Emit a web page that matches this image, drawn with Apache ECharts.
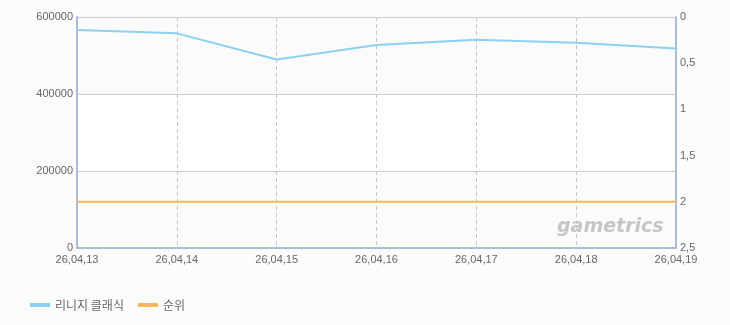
<!DOCTYPE html>
<html><head><meta charset="utf-8">
<script src="https://cdn.jsdelivr.net/npm/echarts@6/dist/echarts.min.js"></script>
<style>html,body{margin:0;padding:0;background:#fcfcfc;}#c{width:730px;height:325px;}</style>
</head><body><div id="c"></div>
<script>
const categories = ['26,04,13','26,04,14','26,04,15','26,04,16','26,04,17','26,04,18','26,04,19'];
const usersValues = [566000, 557500, 489500, 527000, 541000, 533000, 518500];
const rankValues = [2, 2, 2, 2, 2, 2, 2];
const seriesNames = ['리니지 클래식', '순위'];

const chart = echarts.init(document.getElementById('c'));
const axisCol = '#aabdd2';
chart.setOption({
  backgroundColor: '#fcfcfc',
  animation: false,
  grid: {left: 77, right: 54, top: 17, bottom: 77, show: false},
  legend: {
    left: 25, top: 294, itemGap: 14, itemWidth: 20, itemHeight: 4, icon: 'rect',
    textStyle: {color: '#666', fontSize: 12, fontFamily: 'Noto Sans CJK KR'},
    data: seriesNames
  },
  graphic: [{
    type: 'text', left: 557, top: 218, z: 1,
    style: {text: 'gametrics', fill: '#c6c6c6', font: 'italic bold 19px "DejaVu Sans"'}
  }],
  xAxis: {
    type: 'category', data: categories, boundaryGap: false,
    axisLine: {lineStyle: {color: axisCol, width: 2}},
    axisTick: {show: false},
    axisLabel: {color: '#666', fontSize: 11, fontFamily: 'Liberation Sans', margin: 6, interval: 0},
    splitLine: {show: true, lineStyle: {color: '#c8c8c8', type: [4, 3]}}
  },
  yAxis: [{
    type: 'value', min: 0, max: 600000, interval: 200000, position: 'left',
    axisLine: {show: true, lineStyle: {color: axisCol, width: 2}},
    axisTick: {show: false},
    axisLabel: {color: '#666', fontSize: 11, fontFamily: 'Liberation Sans', margin: 4,
      formatter: v => String(v)},
    splitLine: {show: true, lineStyle: {color: '#cccccc'}},
    splitArea: {show: true, areaStyle: {color: ['#fbfbfb', '#ffffff']}}
  }, {
    type: 'value', min: 0, max: 2.5, interval: 0.5, inverse: true, position: 'right',
    axisLine: {show: true, lineStyle: {color: axisCol, width: 2}},
    axisTick: {show: false},
    axisLabel: {color: '#666', fontSize: 11, fontFamily: 'Liberation Sans', margin: 4,
      formatter: v => String(v).replace('.', ',')},
    splitLine: {show: false}
  }],
  series: [{
    name: seriesNames[0], type: 'line', data: usersValues, yAxisIndex: 0,
    symbol: 'none', color: '#8dd0f0', lineStyle: {width: 2, color: '#8dd0f0'}
  }, {
    name: seriesNames[1], type: 'line', data: rankValues, yAxisIndex: 1,
    symbol: 'none', color: '#f5b85a', lineStyle: {width: 2, color: '#f5b85a'}
  }]
});
</script></body></html>
